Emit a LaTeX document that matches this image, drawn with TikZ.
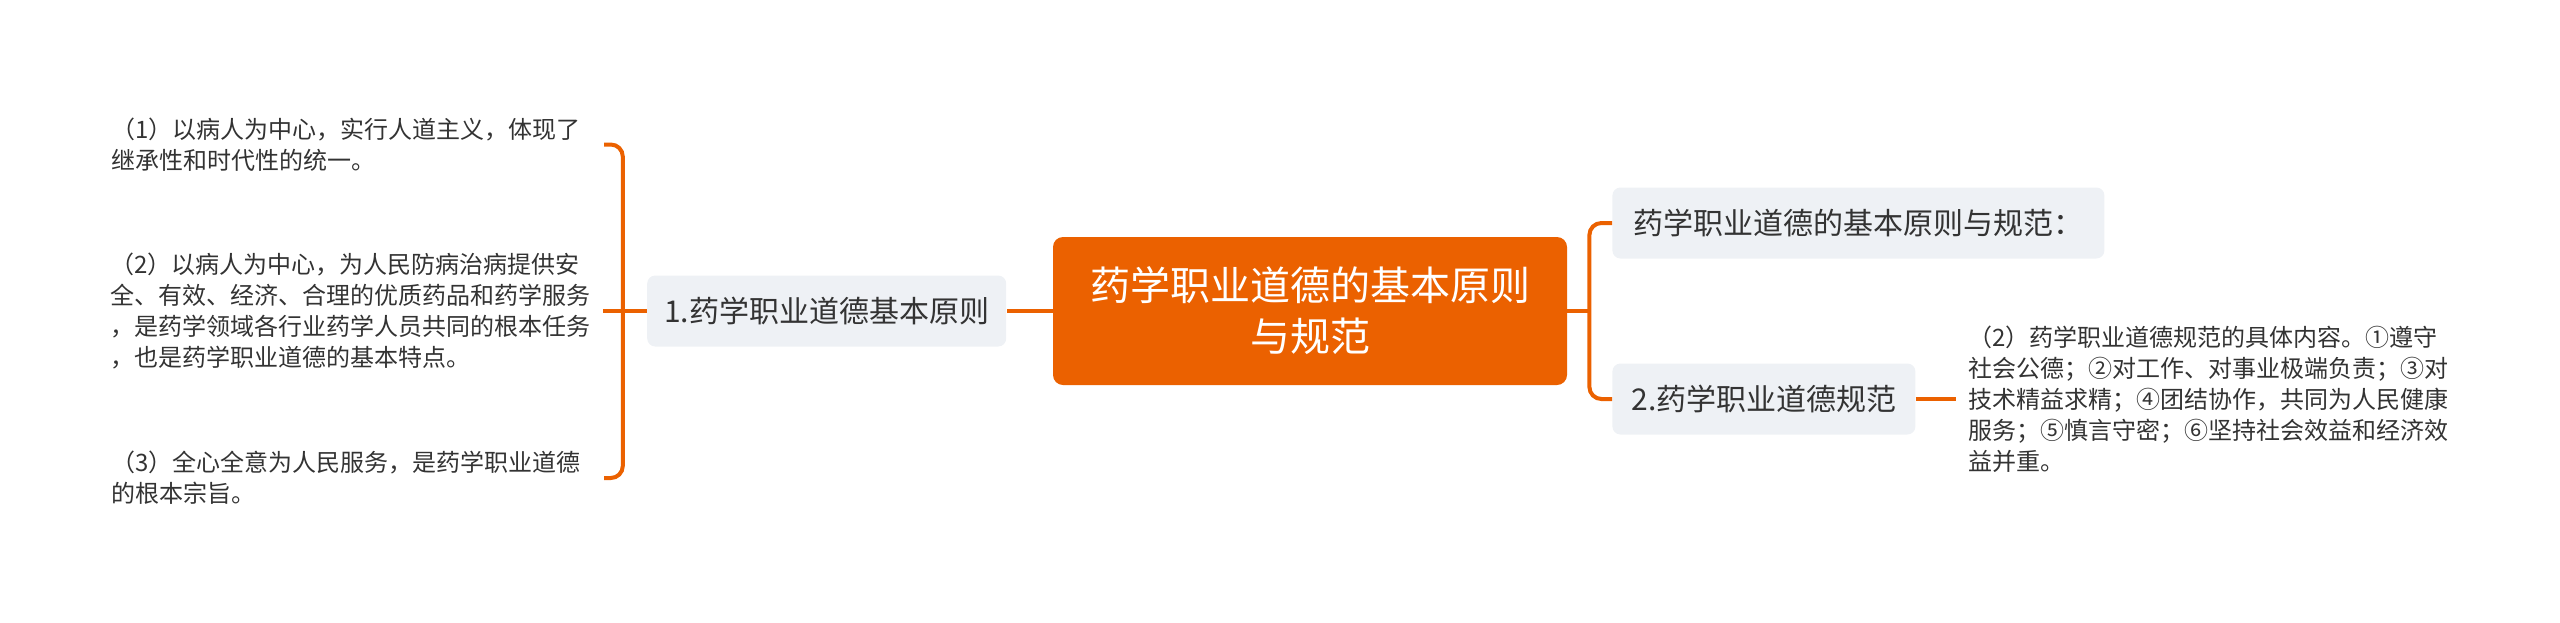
\documentclass[tikz,border=0pt]{standalone}
\usepackage{fontspec}
\setmainfont{Noto Sans CJK SC}
\usetikzlibrary{positioning}
\definecolor{mainorange}{HTML}{EB6100}
\definecolor{topicgray}{HTML}{EEF1F5}
\definecolor{textgray}{HTML}{333333}
\tikzset{
    rootbox/.style={fill=mainorange, rounded corners=5pt, text=white, align=center,
        minimum width=257pt, minimum height=74pt, font=\fontsize{20pt}{25.5pt}\selectfont},
    topicbox/.style={fill=topicgray, rounded corners=4pt, text=textgray,
        minimum height=35.5pt, font=\fontsize{15pt}{18pt}\selectfont},
    leafbox/.style={text=textgray, align=left, text width=240pt, inner xsep=6pt,
        inner ysep=0pt, font=\fontsize{12pt}{15.5pt}\selectfont},
    link/.style={draw=mainorange, line width=2pt},
}
\begin{document}
\begin{tikzpicture}[x=0.5pt, y=-0.5pt]
                \useasboundingbox (0,0) rectangle (2560,622);

                \node[rootbox] (root) at (1310,311) {药学职业道德的基本原则\\与规范};
                \node[topicbox, minimum width=179.5pt, left=23pt of root] (p1) {1.药学职业道德基本原则};
                \node[topicbox, minimum width=246pt, anchor=west] (r0) at (1612,223) {药学职业道德的基本原则与规范：};
                \node[topicbox, minimum width=151.5pt, anchor=west] (p2) at (1612,399) {2.药学职业道德规范};

                \node[leafbox, anchor=east] (l1) at (604,144.5) {（1）以病人为中心，实行人道主义，体现了\\继承性和时代性的统一。};
                \node[leafbox, left=22pt of p1] (l2) {（2）以病人为中心，为人民防病治病提供安\\全、有效、经济、合理的优质药品和药学服务\\，是药学领域各行业药学人员共同的根本任务\\，也是药学职业道德的基本特点。};
                \node[leafbox, anchor=east] (l3) at (604,478) {（3）全心全意为人民服务，是药学职业道德\\的根本宗旨。};
                \node[leafbox, right=20pt of p2] (r2) {（2）药学职业道德规范的具体内容。①遵守\\社会公德；②对工作、对事业极端负责；③对\\技术精益求精；④团结协作，共同为人民健康\\服务；⑤慎言守密；⑥坚持社会效益和经济效\\益并重。};

                \coordinate[left=12pt of p1] (lb);
                \coordinate[right=11pt of root] (rb);

                \draw[link] (root) -- (p1);
                \draw[link] (p1) -- (lb);
                \draw[link, rounded corners=6pt] (l1.east) -| (lb) |- (l3.east);
                \draw[link] (l2.east) -- (lb);
                \draw[link] (root) -- (rb);
                \draw[link, rounded corners=6pt] (r0.west) -| (rb) |- (p2.west);
                \draw[link] (p2) -- (r2);
\end{tikzpicture}
\end{document}
